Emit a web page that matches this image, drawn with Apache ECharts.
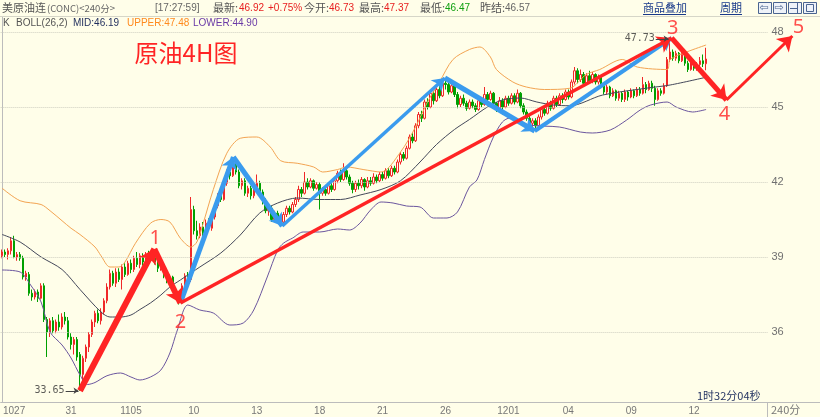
<!DOCTYPE html>
<html><head><meta charset="utf-8">
<script src="https://cdn.jsdelivr.net/npm/echarts@6/dist/echarts.min.js"></script>
<style>html,body{margin:0;padding:0;background:#fffee9;}#c{width:820px;height:417px;}</style>
</head><body><div id="c"></div><script>
// ---------- data ----------
const tickLabels = ['1027','31','1105','10','13','18','21','26','1201','04','09','12'];
const tickBars   = [4,23,43,64,85,106,127,148,169,189,210,231];
const slotCount  = 256;
const priceTicks = [36,39,42,45,48];
// [open, close, low, high]
const candles = [
[39.05,39.20,38.95,39.30],[39.20,39.10,39.00,39.30],[39.10,39.25,38.90,39.35],[39.25,39.65,39.10,39.80],[39.65,39.00,38.95,39.85],
[39.00,39.10,38.85,39.20],[39.10,38.95,38.85,39.20],[38.95,38.20,38.10,39.05],[38.20,38.35,38.05,38.45],[38.30,37.55,37.45,38.40],
[37.55,37.40,37.25,37.70],[37.40,37.60,37.30,37.70],[37.60,37.35,37.20,37.70],[37.35,37.85,37.30,37.95],[37.85,36.50,36.40,37.95],
[36.50,36.00,35.00,36.60],[36.00,36.45,35.80,36.55],[36.45,36.05,35.95,36.60],[36.05,36.40,35.95,36.50],[36.40,36.20,36.05,36.70],
[36.20,36.60,36.10,36.75],[36.60,36.45,36.30,36.80],[36.45,35.80,35.70,36.60],[35.80,35.50,35.30,35.95],[35.50,35.70,35.10,35.80],
[35.70,35.00,34.85,35.80],[35.10,34.30,33.65,35.20],[34.30,34.95,34.00,35.05],[34.95,35.40,34.80,35.50],[35.40,35.90,35.20,36.00],
[35.90,36.40,35.80,36.50],[36.40,36.75,36.20,36.85],[36.75,36.45,36.35,36.90],[36.45,36.80,36.30,36.95],[36.80,37.25,36.70,37.35],
[37.25,37.80,37.15,37.95],[37.80,38.35,37.70,38.50],[38.35,37.95,37.85,38.45],[37.95,38.40,37.80,38.55],[38.40,38.10,38.00,38.55],
[38.10,38.60,37.70,38.70],[38.60,38.30,38.20,38.75],[38.30,38.75,38.25,38.85],[38.75,38.50,38.35,38.90],[38.50,38.95,38.40,39.05],
[38.95,38.70,38.60,39.20],[38.70,39.05,38.55,39.15],[39.05,38.80,38.65,39.15],[38.80,39.10,38.70,39.20],[39.10,38.95,38.80,39.25],
[38.95,39.15,38.85,39.25],[39.15,38.80,38.70,39.20],[38.80,38.55,38.40,38.90],[38.55,38.70,38.45,38.80],[38.70,38.25,38.15,38.75],
[38.25,38.05,37.95,38.35],[38.05,38.20,37.90,38.30],[38.20,37.70,37.60,38.25],[37.70,37.45,37.30,37.80],[37.45,37.35,37.10,37.55],
[37.35,37.85,37.25,37.95],[37.85,38.25,37.75,38.35],[38.25,38.05,37.95,38.40],[38.10,40.90,38.00,41.40],[40.90,40.05,39.90,41.05],
[40.05,39.85,39.70,40.45],[39.85,40.20,39.75,40.35],[40.20,39.95,39.80,40.40],[39.95,40.35,39.85,40.50],[40.35,40.15,40.05,40.55],
[40.15,40.60,40.05,40.75],[40.60,41.05,40.50,41.15],[41.05,41.45,40.95,41.55],[41.45,41.30,41.20,41.65],[41.30,41.95,41.25,42.05],
[41.95,42.40,41.85,42.50],[42.40,42.25,42.10,42.70],[42.25,42.85,42.20,43.00],[42.85,42.40,42.30,42.95],[42.40,41.85,41.75,42.50],
[41.85,42.05,41.70,42.15],[42.05,41.55,41.45,42.15],[41.55,41.75,41.40,41.85],[41.75,41.45,41.30,41.85],[41.45,41.80,41.35,41.90],
[41.80,41.95,41.70,42.30],[41.95,41.60,41.50,42.05],[41.60,41.25,41.10,41.70],[41.25,40.85,40.75,41.35],[40.85,40.95,40.65,41.05],
[40.95,40.50,40.40,41.05],[40.50,40.75,40.40,40.85],[40.75,40.45,40.35,40.85],[40.45,40.40,40.30,40.60],[40.40,40.70,40.35,40.80],
[40.70,40.95,40.60,41.05],[40.95,40.80,40.70,41.05],[40.80,41.10,40.75,41.20],[41.10,41.30,41.00,41.40],[41.30,41.70,41.20,41.85],
[41.70,41.55,41.40,41.80],[41.55,42.00,41.50,42.40],[42.00,41.80,41.70,42.15],[41.80,42.05,41.75,42.15],[42.05,41.75,41.65,42.10],
[41.75,41.90,41.70,42.00],[41.90,41.55,40.90,42.00],[41.55,41.70,41.45,41.80],[41.70,41.55,41.45,41.80],[41.55,41.85,41.50,41.95],
[41.85,41.70,41.60,41.95],[41.70,42.05,41.65,42.15],[42.05,42.35,41.95,42.45],[42.35,42.10,42.00,42.50],[42.10,42.45,42.05,42.75],
[42.45,42.20,42.10,42.55],[42.20,41.95,41.85,42.30],[41.95,41.70,41.55,42.05],[41.70,41.95,41.60,42.05],[41.95,41.85,41.70,42.10],
[41.85,42.10,41.75,42.20],[42.10,41.80,41.65,42.15],[41.80,42.05,41.75,42.20],[42.05,41.95,41.85,42.20],[41.95,42.20,41.90,42.35],
[42.20,42.05,41.95,42.30],[42.05,42.30,42.00,42.40],[42.30,42.15,42.05,42.40],[42.15,42.45,42.10,42.55],[42.45,42.25,42.15,42.55],
[42.25,42.55,42.20,42.65],[42.55,42.40,42.30,42.65],[42.40,42.80,42.35,42.90],[42.80,43.10,42.70,43.20],[43.10,42.95,42.85,43.20],
[42.95,43.35,42.90,43.45],[43.35,43.80,43.30,43.90],[43.80,43.65,43.55,43.95],[43.65,44.25,43.60,44.35],[44.25,44.70,44.15,44.80],
[44.70,44.55,44.40,44.85],[44.55,45.20,44.50,45.30],[45.20,45.00,44.90,45.35],[45.00,45.55,44.95,45.65],[45.55,45.25,45.10,45.65],
[45.25,45.70,45.20,45.80],[45.70,45.45,45.35,45.85],[45.45,45.95,45.40,46.05],[45.95,45.90,45.70,46.16],[45.90,45.60,45.50,46.00],
[45.60,45.85,45.55,46.10],[45.85,45.50,45.40,45.95],[45.50,45.10,44.95,45.60],[45.10,45.35,45.00,45.45],[45.35,45.15,45.05,45.50],
[45.15,44.95,44.85,45.25],[44.95,45.20,44.90,45.30],[45.20,45.05,44.95,45.30],[45.05,44.90,44.80,45.15],[44.90,45.25,44.85,45.35],
[45.25,45.10,45.00,45.35],[45.10,45.50,45.05,45.80],[45.50,45.30,45.20,45.60],[45.30,45.55,45.25,45.65],[45.55,45.15,45.00,45.60],
[45.15,44.90,44.80,45.20],[44.90,45.25,44.85,45.40],[45.25,45.00,44.70,45.35],[45.00,45.35,44.95,45.45],[45.35,45.15,45.05,45.45],
[45.15,45.45,45.10,45.55],[45.45,45.20,45.10,45.55],[45.20,45.55,45.15,45.70],[45.55,45.05,44.95,45.60],[45.05,44.80,44.70,45.15],
[44.80,44.55,44.45,44.90],[44.55,44.35,44.25,44.65],[44.35,44.45,44.05,44.55],[44.45,44.25,44.04,44.55],[44.25,44.60,44.20,44.70],
[44.60,44.90,44.50,45.00],[44.90,44.75,44.65,45.00],[44.75,45.15,44.70,45.25],[45.15,44.95,44.85,45.25],[44.95,45.35,44.90,45.45],
[45.35,45.10,45.00,45.45],[45.10,45.45,45.05,45.55],[45.45,45.30,45.15,45.55],[45.30,45.60,45.25,45.70],[45.60,45.40,45.30,45.70],
[45.40,46.00,45.35,46.10],[46.00,46.45,45.90,46.60],[46.45,46.10,45.95,46.55],[46.10,46.30,46.00,46.50],[46.30,45.95,45.85,46.40],
[45.95,46.25,45.90,46.35],[46.25,46.05,45.95,46.45],[46.05,46.30,45.95,46.40],[46.30,46.00,45.90,46.35],[46.00,46.20,45.90,46.30],
[46.20,45.85,45.75,46.25],[45.85,45.60,45.50,45.95],[45.60,45.80,45.50,45.90],[45.80,45.45,45.35,45.85],[45.45,45.65,45.40,45.75],
[45.65,45.35,45.25,45.70],[45.35,45.55,45.25,45.65],[45.55,45.30,45.20,45.60],[45.30,45.60,45.20,45.70],[45.60,45.40,45.25,45.65],
[45.40,45.65,45.35,45.75],[45.65,45.45,45.35,45.70],[45.45,45.70,45.40,45.80],[45.70,45.55,45.45,45.80],[45.55,45.90,45.50,46.20],
[45.90,45.70,45.55,46.00],[45.70,45.95,45.65,46.05],[45.95,45.75,45.60,46.05],[45.75,45.30,45.05,45.85],[45.30,45.65,45.25,45.75],
[45.65,45.55,45.45,45.75],[45.55,45.85,45.50,45.95],[45.85,46.90,45.80,47.00],[46.90,47.20,46.80,47.73],[47.20,46.95,46.85,47.30],
[46.95,47.15,46.85,47.25],[47.15,46.85,46.75,47.20],[46.85,47.10,46.80,47.20],[47.10,46.75,46.65,47.15],[46.75,46.50,46.40,46.85],
[46.50,46.80,46.45,46.90],[46.80,46.55,46.45,46.90],[46.55,46.70,46.45,46.80],[46.70,46.85,46.55,47.00],[46.85,46.73,46.60,47.10],
[46.73,46.92,46.47,47.37]
];
// BOLL(26,2) bands: [bar index, price]
const upperBand = [[0,41.75],[6,41.25],[13,41.1],[16,40.85],[20,40.45],[23,40.15],[26,39.9],[31,39.4],[33,39.05],[36,38.6],[39,38.6],[41,38.8],[44.5,39.55],[49.5,40.35],[53,40.5],[56,40.4],[59.5,39.75],[63,39.4],[65,39.6],[67,40.3],[70.5,41.7],[75,43.15],[79.5,43.75],[85,43.8],[89.5,43.4],[93,42.85],[98.5,42.75],[104,42.6],[107,42.4],[112,42.5],[115,42.6],[120.5,42.5],[126.5,42.4],[133,43.2],[138,44.2],[142,45.2],[146,46.0],[150.5,46.9],[156,47.3],[159.5,47.4],[163,47.0],[165,46.5],[170.5,46.0],[175,45.8],[181,45.7],[189.5,45.75],[195,46.3],[199.5,46.5],[207,46.9],[212,46.6],[222,46.5],[223,46.9],[228.5,47.2],[235,47.48]];
const midBand = [[0,39.9],[6,39.6],[13,39.0],[20,38.5],[26,37.7],[33,36.8],[36,36.6],[39.5,36.6],[43,36.68],[46,36.9],[49.5,37.16],[53,37.48],[56,37.8],[59.5,38.08],[66,38.6],[73,39.16],[79.5,39.88],[86,40.76],[92,41.16],[98.5,41.36],[106,41.3],[113,41.3],[119.5,41.48],[126.5,41.7],[133,42.05],[139.5,42.8],[145,43.5],[151,44.1],[156,44.5],[162,45.0],[167,45.28],[173,45.36],[178.5,45.2],[184,45.08],[189.5,45.05],[200.5,45.48],[215.5,45.76],[223,45.88],[235,46.19]];
const lowerBand = [[0,38.48],[6,38.4],[9.5,37.88],[13,37.2],[16,36.0],[20,35.48],[23,34.96],[26,34.28],[28.5,33.9],[31,33.98],[35,34.25],[39.5,34.36],[43,34.2],[46,34.08],[49.5,34.2],[53,34.48],[56,35.16],[58.5,36.08],[62,37.08],[66,36.88],[70.5,36.76],[76,36.28],[80.5,36.36],[84,36.88],[88.5,38.2],[92,39.28],[94,39.56],[97,39.76],[100.5,40.0],[106,40.0],[112,40.12],[116,40.08],[119.5,40.36],[123,40.88],[126.5,41.2],[130.5,41.16],[135,41.04],[139.5,41.0],[144,40.56],[148.5,40.56],[152,40.8],[156,41.8],[158.5,42.08],[161,42.9],[164,43.8],[167,44.4],[169.5,44.56],[176,44.28],[186,44.2],[193,44.0],[197,43.96],[203,44.08],[208.5,44.48],[213,44.88],[216.5,45.08],[222,45.2],[225,45.0],[230.5,44.8],[235,44.9]];
// wave annotations: [bar index, price]
const redWave  = [[26,33.65],[50.8,39.32],[59.5,37.16]];
const redTrend = [[59.5,37.16],[223.5,47.76]];
const redProj  = [[223.5,47.76],[241.8,45.28],[263.8,47.84]];
const blueWave = [[59.5,37.16],[77.2,43.0],[93.5,40.24],[147.8,46.16],[177.8,44.04],[223.5,47.76]];
const waveNames  = ['1','2','3','4','5'];
const wavePoints = [[50.8,39.32],[59.5,37.16],[223.5,47.76],[241.8,45.28],[263.8,47.84]];
const bollLegend = {mid:'46.19', upper:'47.48', lower:'44.90'};
const quote = {time:'[17:27:59]', last:'46.92', chg:'+0.75%', open:'46.73', high:'47.37', low:'46.47', prev:'46.57'};

// ---------- styles ----------
const RED = '#ff2424', BLUE = '#3a9bee', GREEN = '#00a000';
const waveOffsets = [[1,-11],[0,19],[1,-10],[-2,14],[6,-9]];
const redWaveW = [6,6], redProjW = [5,3], blueW = [5,5,3.5,5,4];
const pointerBars = 4.5;   // length of the small pointer arrows at the extremes, in bars

const categories = Array.from({length: slotCount}, () => '');
tickBars.forEach((b,k) => { categories[b] = tickLabels[k]; });

function segs(points, widths, color){
  const out = [];
  for (let k = 0; k < points.length - 1; k++)
    out.push({coords:[points[k], points[k+1]], lineStyle:{width: widths[k], color: color, opacity: 1}});
  return out;
}
let hiIdx = 0, loIdx = 0;
candles.forEach((c,i) => { if (c[3] > candles[hiIdx][3]) hiIdx = i; if (c[2] < candles[loIdx][2]) loIdx = i; });
const extremes = [[hiIdx, candles[hiIdx][3]], [loIdx, candles[loIdx][2]]];

const CJK = '"Noto Sans CJK SC"';
function txt(x, y, text, fill, font, align){
  return {type:'text', x:x, y:y, silent:true, z:50,
    style:{text:text, fill:fill, font:font || ('11px ' + CJK), align:align||'left', textAlign:align||'left', verticalAlign:'middle', textVerticalAlign:'middle'}};
}
function ln(x1,y1,x2,y2,stroke){ return {type:'line', silent:true, z:40, shape:{x1,y1,x2,y2}, style:{stroke:stroke, lineWidth:1}}; }

const F1 = '11px ' + CJK, FN = '10px "Liberation Sans"', F2 = '10px "Liberation Sans"';
const graphics = [
  ln(0,16.5,820,16.5,'#d6d6c8'),
  ln(767.5,402,767.5,417,'#bcbcbc'),
  ln(767.5,402.5,820,402.5,'#bcbcbc'),
  txt(2,8,'美原油连','#555',F1), txt(47,8,'(CONC)<240分>','#666','9.5px ' + CJK),
  txt(155,8,quote.time,'#666',FN),
  txt(213,8,'最新:','#555',F1), txt(239,8,quote.last,'#e82020',FN), txt(268,8,quote.chg,'#e82020',FN),
  txt(304,8,'今开:','#555',F1), txt(329,8,quote.open,'#e82020',FN),
  txt(359,8,'最高:','#555',F1), txt(384,8,quote.high,'#e82020',FN),
  txt(420,8,'最低:','#555',F1), txt(445,8,quote.low,'#10a010',FN),
  txt(480,8,'昨结:','#555',F1), txt(505,8,quote.prev,'#666',FN),
  txt(643,8,'商品叠加','#1a3a8a',F1), ln(643,14.5,686,14.5,'#1a3a8a'),
  txt(720,8,'周期','#1a3a8a',F1), ln(720,14.5,742,14.5,'#1a3a8a'),
  txt(3,23,'K','#555',F2), txt(16,23,'BOLL(26,2)','#555',F2),
  txt(73,23,'MID:' + bollLegend.mid,'#1e2c5c',F2),
  txt(127,23,'UPPER:' + bollLegend.upper,'#ff8a1e',F2),
  txt(193,23,'LOWER:' + bollLegend.lower,'#6a3aa6',F2),
  txt(186,53,'原油4H图',RED,'24px ' + CJK,'center'),
  txt(697,396,'1时32分04秒','#1e2e5e',F1),
  txt(771,410,'240分','#777',F1)
];
[758,773,788,803].forEach((bx,k) => {
  graphics.push({type:'rect', silent:true, z:40, shape:{x:bx+0.5,y:2.5,width:13,height:11}, style:{fill:'#eef2f8', stroke:'#4a6490', lineWidth:1}});
  if (k === 0) graphics.push(txt(bx+1.5,8,'⇦','#4a6490','11px "DejaVu Sans"'));
  if (k === 1) graphics.push(txt(bx+1.5,8,'⇨','#4a6490','11px "DejaVu Sans"'));
  if (k === 2) { graphics.push(ln(bx+9.5,2.5,bx+9.5,13.5,'#4a6490')); graphics.push(ln(bx+2,8.5,bx+9.5,8.5,'#4a6490')); }
  if (k === 3) graphics.push({type:'rect', silent:true, z:41, shape:{x:bx+3.5,y:4.5,width:7,height:7}, style:{fill:'none', stroke:'#4a6490', lineWidth:1}});
});

const chart = echarts.init(document.getElementById('c'), null, {renderer:'canvas'});
chart.setOption({
  backgroundColor:'#fffee9',
  animation:false,
  textStyle:{fontFamily:'"Liberation Sans", "Noto Sans CJK SC", sans-serif'},
  grid:{left:0, right:52.5, top:17, bottom:15, containLabel:false},
  xAxis:[
    {type:'category', data:categories, boundaryGap:true,
     axisLine:{lineStyle:{color:'#bcbcbc'}}, axisTick:{show:false},
     axisLabel:{interval:(i,v)=>v!=='', color:'#777', fontSize:10, margin:4, fontFamily:'"Liberation Sans"'},
     splitLine:{show:false}},
    {type:'value', min:-0.5, max:slotCount-0.5, show:false}
  ],
  yAxis:[{type:'value', position:'right', min:33.2, max:48.6, scale:true,
    axisLine:{show:true, lineStyle:{color:'#bcbcbc'}}, axisTick:{show:false}, axisLabel:{show:false}, splitLine:{show:false}}],
  series:[
    {type:'candlestick', name:'K', xAxisIndex:0, yAxisIndex:0, data:candles, barWidth:2, z:3,
     itemStyle:{color:'#fffee9', color0:GREEN, borderColor:'#f02828', borderColor0:GREEN, borderWidth:1},
     markLine:{silent:true, symbol:['none','none'], animation:false,
       lineStyle:{type:'dotted', color:'#cfcfc0', width:1},
       label:{position:'end', formatter:'{c}', color:'#707070', fontSize:11, distance:4, fontFamily:'"Liberation Sans"'},
       data:priceTicks.map(v=>({yAxis:v}))}},
    {type:'line', name:'UPPER', xAxisIndex:1, data:upperBand, smooth:0.3, showSymbol:false, symbol:'none', z:4, lineStyle:{color:'#f3a452', width:1}},
    {type:'line', name:'MID', xAxisIndex:1, data:midBand, smooth:0.3, showSymbol:false, symbol:'none', z:4, lineStyle:{color:'#44485a', width:1}},
    {type:'line', name:'LOWER', xAxisIndex:1, data:lowerBand, smooth:0.3, showSymbol:false, symbol:'none', z:4, lineStyle:{color:'#6b569e', width:1}},
    {type:'lines', coordinateSystem:'cartesian2d', xAxisIndex:1, yAxisIndex:0, clip:false, z:6,
     symbol:['none','arrow'], symbolSize:12, silent:true, lineStyle:{opacity:1},
     data:segs(blueWave, blueW, BLUE)},
    {type:'lines', coordinateSystem:'cartesian2d', xAxisIndex:1, yAxisIndex:0, clip:false, z:7,
     symbol:['none','arrow'], symbolSize:14, silent:true, lineStyle:{opacity:1},
     data:[].concat(segs(redWave, redWaveW, RED), segs(redTrend, [3.5], RED), segs(redProj, redProjW, RED))},
    {type:'lines', coordinateSystem:'cartesian2d', xAxisIndex:1, yAxisIndex:0, clip:false, z:8,
     symbol:['none','arrow'], symbolSize:5, silent:true, lineStyle:{opacity:1, color:'#444', width:1},
     data:extremes.map(p=>({coords:[[p[0]-pointerBars-0.3, p[1]],[p[0]-0.5, p[1]]]}))},
    {type:'scatter', xAxisIndex:1, yAxisIndex:0, clip:false, symbolSize:0, silent:true, z:8,
     data:wavePoints.map((p,k)=>({value:p, name:waveNames[k],
       label:{show:true, position:'inside', formatter:waveNames[k], offset:waveOffsets[k], color:RED, fontSize:20, fontFamily:'"Noto Sans"'}}))},
    {type:'scatter', xAxisIndex:1, yAxisIndex:0, clip:false, symbolSize:0, silent:true, z:8,
     data:extremes.map(p=>({value:[p[0]-pointerBars-0.3, p[1]], raw:p[1]})),
     label:{show:true, position:'left', distance:1, color:'#333', fontSize:10, fontFamily:'"DejaVu Sans Mono"',
       formatter:p=>extremes[p.dataIndex][1].toFixed(2)}}
  ],
  graphic:graphics
});
</script></body></html>
